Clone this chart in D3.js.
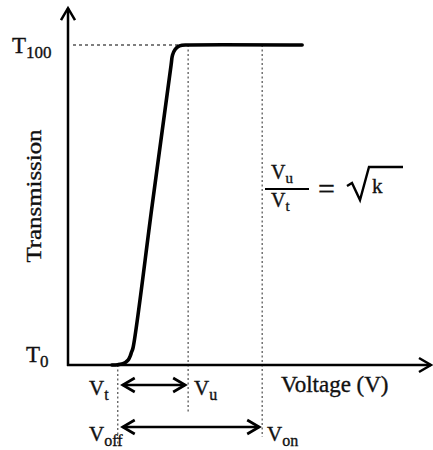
<!DOCTYPE html>
<html><head><meta charset="utf-8">
<script src="https://cdn.jsdelivr.net/npm/d3@7/dist/d3.min.js"></script>
<style>
html,body{margin:0;padding:0;background:#fff;}
text{font-family:"Liberation Serif","Times New Roman",serif;fill:#111;stroke:#111;stroke-width:0.35px;}
</style></head>
<body><svg id="chart" width="433" height="450"></svg>
<script>
// Data (arbitrary voltage units, transmission in %)
const curveV = [1.21, 1.37, 1.48, 1.58, 1.66, 1.71, 1.75, 1.79, 2.32, 2.84, 2.88, 2.95, 3.03, 3.14, 3.28, 6.45];
const curveT = [0, 0.1, 0.3, 0.8, 1.6, 2.7, 4.0, 5.3, 50.0, 93.75, 96.9, 98.6, 99.5, 99.9, 100, 100];
const markNames = ["Vt", "Vu", "Von"];
const markValues = [1.37, 3.31, 5.35];
const yLevels = ["T0", "T100"];
const yLevelValues = [0, 100];
const xAxisMax = 10;
const yAxisMax = 111.5;

const svg = d3.select("#chart");
const x = d3.scaleLinear().domain([0, xAxisMax]).range([68, 431]);
const y = d3.scaleLinear().domain([0, 100]).range([365, 45]);

const Vt = markValues[0], Vu = markValues[1], Von = markValues[2];

// dashed T100 guide
svg.append("line").attr("x1", x(0) + 5).attr("x2", x(Vu)).attr("y1", y(yLevelValues[1])).attr("y2", y(yLevelValues[1]))
  .attr("stroke", "#555").attr("stroke-width", 1.4).attr("stroke-dasharray", "3,3");

// vertical dotted guides
const dot = (xv, y1, y2) => svg.append("line").attr("x1", x(xv)).attr("x2", x(xv)).attr("y1", y1).attr("y2", y2)
  .attr("stroke", "#666").attr("stroke-width", 1.4).attr("stroke-dasharray", "2,2.5");
dot(Vt, y(0), 445);
dot(Vu, y(100), 412);
dot(Von, y(100), 437);

// axes
const axisG = svg.append("g").attr("stroke", "#000").attr("stroke-width", 2.5).attr("fill", "none");
axisG.append("line").attr("x1", x(0)).attr("x2", x(0)).attr("y1", y(0) + 1).attr("y2", y(yAxisMax));
axisG.append("line").attr("x1", x(0) - 1).attr("x2", x(xAxisMax)).attr("y1", y(0)).attr("y2", y(0));
function head(px, py, dir) {
  const L = 9, W = 7;
  if (dir === "up") return `M${px - W},${py + L + 3}L${px},${py}L${px + W},${py + L + 3}`;
  if (dir === "right") return `M${px - L - 3},${py - W}L${px},${py}L${px - L - 3},${py + W}`;
  return `M${px + L + 3},${py - W}L${px},${py}L${px + L + 3},${py + W}`;
}
axisG.append("path").attr("d", head(x(0), y(yAxisMax), "up"));
axisG.append("path").attr("d", head(x(xAxisMax), y(0), "right"));

// double arrows
function dbl(v1, v2, py) {
  const g = svg.append("g").attr("stroke", "#000").attr("stroke-width", 2.7).attr("fill", "none");
  const a = x(v1) + 5, b = x(v2) - 3;
  g.append("line").attr("x1", a).attr("x2", b).attr("y1", py).attr("y2", py);
  g.append("path").attr("d", head(a, py, "left"));
  g.append("path").attr("d", head(b, py, "right"));
}
dbl(Vt, Vu, 385);
dbl(Vt, Von, 427);

// transmission curve
const pts = curveV.map((v, i) => [v, curveT[i]]);
svg.append("path").datum(pts)
  .attr("d", d3.line().x(d => x(d[0])).y(d => y(d[1])).curve(d3.curveCatmullRom.alpha(0.5)))
  .attr("fill", "none").attr("stroke", "#000").attr("stroke-width", 3.6).attr("stroke-linecap", "round");

// labels with subscripts
function sub(px, py, main, s, fs, sfs) {
  const t = svg.append("text").attr("x", px).attr("y", py).attr("font-size", fs);
  t.append("tspan").text(main);
  t.append("tspan").attr("font-size", sfs).attr("dy", fs * 0.22).text(s);
  return t;
}
sub(12, 53, yLevels[1].slice(0, 1), yLevels[1].slice(1), 23, 17);
sub(26, 362, yLevels[0].slice(0, 1), yLevels[0].slice(1), 23, 17);

sub(89, 395, "V", "t", 21, 16);
sub(194, 395, "V", "u", 21, 16);
sub(89, 441, "V", "off", 21, 16);
sub(267, 441, "V", "on", 21, 16);

svg.append("text").attr("x", 281).attr("y", 392).attr("font-size", 23).text("Voltage (V)");

svg.append("text").attr("transform", "translate(41,196) rotate(-90)")
  .attr("text-anchor", "middle").attr("font-size", 22)
  .attr("textLength", 133).attr("lengthAdjust", "spacingAndGlyphs").text("Transmission");

// formula Vu/Vt = sqrt(k)
sub(271, 179, "V", "u", 20, 15);
svg.append("line").attr("x1", 265).attr("x2", 309).attr("y1", 189).attr("y2", 189).attr("stroke", "#000").attr("stroke-width", 2.2);
sub(271, 207, "V", "t", 20, 15);
svg.append("text").attr("x", 318).attr("y", 199).attr("font-size", 30).text("=");
svg.append("path").attr("d", "M347,186L352,183L360,200L369,167L403,167")
  .attr("fill", "none").attr("stroke", "#000").attr("stroke-width", 2.4).attr("stroke-linejoin", "miter");
svg.append("text").attr("x", 372).attr("y", 193).attr("font-size", 21).text("k");
</script></body></html>
